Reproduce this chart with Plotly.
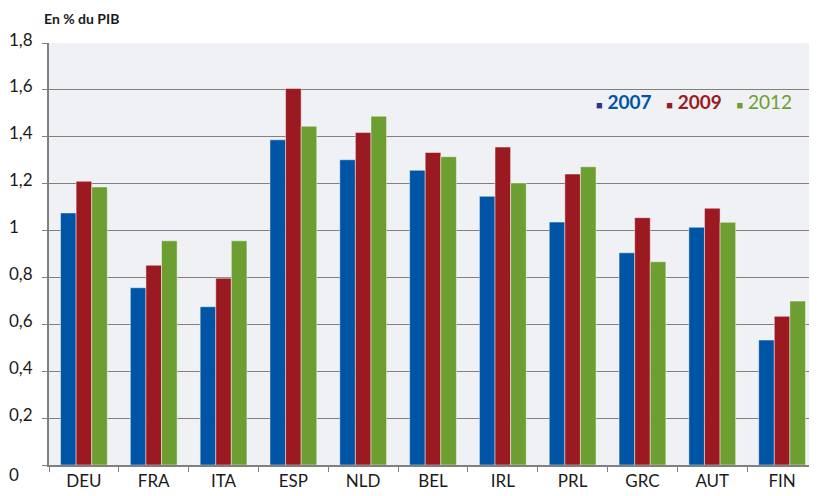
import plotly.graph_objects as go

countries = ["DEU", "FRA", "ITA", "ESP", "NLD", "BEL", "IRL", "PRL", "GRC", "AUT", "FIN"]
v2007 = [1.075, 0.756, 0.675, 1.387, 1.302, 1.257, 1.146, 1.036, 0.905, 1.014, 0.533]
v2009 = [1.21, 0.852, 0.797, 1.606, 1.418, 1.333, 1.356, 1.241, 1.055, 1.095, 0.634]
v2012 = [1.186, 0.956, 0.956, 1.445, 1.488, 1.315, 1.203, 1.272, 0.867, 1.035, 0.699]
y_ticks = [0, 0.2, 0.4, 0.6, 0.8, 1, 1.2, 1.4, 1.6, 1.8]
y_labels = ["0", "0,2", "0,4", "0,6", "0,8", "1", "1,2", "1,4", "1,6", "1,8"]

blue = "#0054a6"
red = "#9b1a21"
green = "#6c9e32"

fig = go.Figure()
series = [("2007", v2007, blue), ("2009", v2009, red), ("2012", v2012, green)]
for name, vals, col in series:
    fig.add_trace(go.Bar(
        x=countries, y=vals, name=name, showlegend=False,
        marker=dict(color=col, line=dict(color="rgba(255,255,255,0.45)", width=1)),
    ))

# legend written as one line of text (small squares + coloured years)
legend_txt = (
    '<span style="color:#2e3192;font-size:11px">■</span> '
    '<span style="color:%s"><b>2007</b></span>&nbsp;&nbsp; '
    '<span style="color:%s;font-size:11px">■</span> '
    '<span style="color:%s"><b>2009</b></span>&nbsp;&nbsp; '
    '<span style="color:%s;font-size:11px">■</span> '
    '<span style="color:%s">2012</span>'
) % (blue, red, red, green, green)

annots = [
    dict(text="<b>En % du PIB</b>", xref="paper", yref="paper",
         x=-0.009, y=1.0829, xanchor="left", yanchor="top",
         showarrow=False, font=dict(size=14, color="#1a1a1a")),
    dict(text=legend_txt, xref="paper", yref="paper",
         x=0.71, y=0.862, xanchor="left", yanchor="middle",
         showarrow=False, font=dict(size=19)),
]
# y tick labels, left aligned like the original
for v, lab in zip(y_ticks, y_labels):
    annots.append(dict(
        text=lab, xref="paper", yref="y", x=-0.055, y=v,
        xanchor="left", yanchor="middle", showarrow=False,
        yshift=-9 if v == 0 else 4, font=dict(size=17, color="#1a1a1a"),
    ))

# page body has an 8px margin, so the figure is shrunk by 8px to fit the window
fig.update_layout(
    width=809, height=488,
    margin=dict(l=41, r=0, t=35, b=31, autoexpand=False),
    paper_bgcolor="white",
    plot_bgcolor="#eff1f4",
    font=dict(family="Lato, Open Sans, sans-serif", size=16, color="#1a1a1a"),
    barmode="group",
    bargap=0.33,
    bargroupgap=0,
    annotations=annots,
)
fig.update_xaxes(
    showgrid=False, showline=True, linecolor="#808080", linewidth=2,
    ticks="outside", tickson="boundaries", ticklen=5, tickcolor="#808080",
    tickfont=dict(size=17), automargin=False,
)
fig.update_yaxes(
    range=[0, 1.8], tickmode="array", tickvals=y_ticks, showticklabels=False,
    showgrid=True, gridcolor="#808080", gridwidth=1,
    showline=True, linecolor="#808080", linewidth=2,
    ticks="outside", ticklen=5, tickcolor="#808080",
    zeroline=False, automargin=False,
)

fig.write_html("out.html")
